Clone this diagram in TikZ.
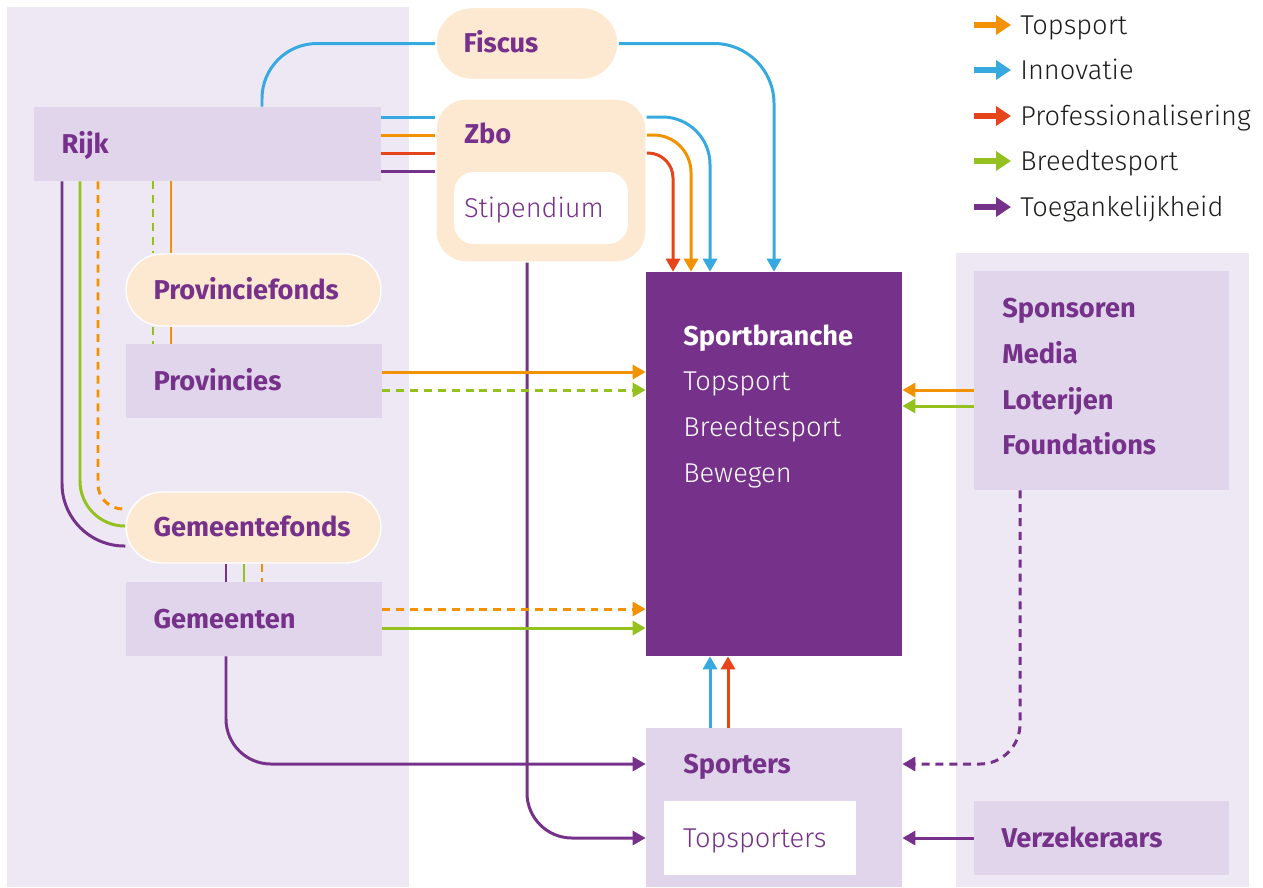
\documentclass[tikz,border=0pt]{standalone}
\usepackage{fontspec}
\setmainfont{Fira Sans}
\newfontfamily\lightfont{Fira Sans Light}
\usepackage{xcolor}
\usepackage{tikz}
\usetikzlibrary{arrows.meta, positioning}

\definecolor{topcol}{HTML}{F39200}
\definecolor{innocol}{HTML}{36A9E1}
\definecolor{profcol}{HTML}{E6441A}
\definecolor{breedcol}{HTML}{95C11F}
\definecolor{toegcol}{HTML}{76318A}
\definecolor{panelbg}{HTML}{EEE8F4}
\definecolor{boxbg}{HTML}{E1D5EB}
\definecolor{fondsbg}{HTML}{FDE8D2}
\definecolor{darktxt}{HTML}{1D1D1B}

\pgfdeclarelayer{panels}
\pgfdeclarelayer{lines}
\pgfsetlayers{panels,lines,main}

\begin{document}
\begin{tikzpicture}[x=0.02cm, y=-0.02cm, >={Triangle[length=0.26cm, width=0.28cm]}]
		\tikzstyle{box} = [rectangle, fill=boxbg, text=toegcol, font=\bfseries\fontsize{15.5}{26}\selectfont, inner xsep=0.55cm, inner ysep=0pt, text height=10.7pt, text depth=0pt, align=left, minimum height=1.48cm]
		\tikzstyle{fonds} = [box, fill=fondsbg, draw=white, line width=0.8pt, rounded corners=0.72cm, minimum height=1.44cm]
		\tikzstyle{inner} = [box, fill=white, font=\lightfont\fontsize{15.5}{26}\selectfont]
		\tikzstyle{title} = [text=toegcol, font=\bfseries\fontsize{15.5}{26}\selectfont, inner sep=0pt, text height=10.7pt, text depth=0pt, anchor=west]
		\tikzstyle{list} = [text=toegcol, font=\bfseries\fontsize{15.5}{26}\selectfont, inner sep=0pt, anchor=north west, align=left]
		\tikzstyle{legend} = [text=darktxt, font=\lightfont\fontsize{15.5}{26}\selectfont, inner sep=0pt, text height=10.7pt, text depth=0pt, anchor=west]
		\tikzstyle{flow} = [line width=1.7pt, ->]
		\tikzstyle{stippel} = [dash pattern=on 4.5pt off 3.4pt]
		\tikzstyle{legarrow} = [line width=0.12cm, -{Triangle[length=0.3cm, width=0.38cm]}]

		\useasboundingbox (0,0) rectangle (1263,887);

		\begin{pgfonlayer}{panels}
			\fill[panelbg] (7,7) rectangle (409,887);
			\fill[panelbg] (956,253) rectangle (1249,887);
		\end{pgfonlayer}

		\node[box, text width=5.84cm] 	at (207.5,144) 	(rijk) 		{Rijk};
		\node[fonds, text width=2.54cm] at (527,43.5) 	(fiscus) 	{Fiscus};
		\node[fonds, rounded corners=0.6cm, minimum width=4.2cm, minimum height=3.26cm] at (541,180.5) (zbo) {};
		\node[title] 					at (464,134.5) 	(zbotxt) 	{Zbo};
		\node[inner, rounded corners=0.4cm, inner xsep=0.2cm, text width=3.08cm, minimum height=1.44cm] at (541,208) (stip) {Stipendium};
		\node[fonds, text width=4cm] 	at (253.5,290) 	(provfonds) {Provinciefonds};
		\node[box, text width=4.02cm] 	at (254,381) 	(prov) 		{Provincies};
		\node[fonds, text width=4cm, minimum height=1.42cm] at (253.5,527.5) (gemfonds) {Gemeentefonds};
		\node[box, text width=4.02cm] 	at (254,619) 	(gem) 		{Gemeenten};

		\node[rectangle, fill=toegcol, minimum width=5.12cm, minimum height=7.68cm] at (774,464) (branche) {};
		\node[list, text=white, font=\lightfont\fontsize{15.5}{26}\selectfont] at (683,324) (branchetxt) {{\fontspec{Fira Sans}\bfseries Sportbranche}\\Topsport\\Breedtesport\\Bewegen};
		\node[box, minimum width=5.12cm, minimum height=3.18cm] at (774,807.5) (sporters) {};
		\node[title] 					at (683,764) 	(sporterstxt) {Sporters};
		\node[inner, inner xsep=0.38cm, text width=3.08cm] at (760,838) (topsp) {Topsporters};

		\node[box, minimum width=5.1cm, minimum height=4.38cm] at (1101.5,380.5) (sponsors) {};
		\node[list] 					at (1002,298) 	(sponsorstxt) {Sponsoren\\Media\\Loterijen\\Foundations};
		\node[box, text width=4cm] 		at (1101.5,838) (verz) 		{Verzekeraars};

		\node[legend] at (1020,25) 	(lgtop) 	{Topsport};
		\node[legend] at (1020,70) 	(lginno) 	{Innovatie};
		\node[legend] at (1020,116) (lgprof) 	{Professionalisering};
		\node[legend] at (1020,161) (lgbreed) 	{Breedtesport};
		\node[legend] at (1020,207) (lgtoeg) 	{Toegankelijkheid};
		\foreach \n/\c in {lgtop/topcol, lginno/innocol, lgprof/profcol, lgbreed/breedcol, lgtoeg/toegcol}
			\draw[legarrow, \c] ([xshift=-0.92cm]\n.west) -- ([xshift=-0.18cm]\n.west);

		\begin{pgfonlayer}{lines}
			\draw[flow, -, innocol, rounded corners=1.1cm] (rijk.north -| 262,0) |- (fiscus.west);
			\draw[flow, innocol, rounded corners=1.2cm] (fiscus.east) -| (branche.north -| 774,0);

			\draw[flow, -, innocol] 	(rijk.east |- 0,117) -- (zbo.west |- 0,117);
			\draw[flow, -, topcol] 		(rijk.east |- 0,135) -- (zbo.west |- 0,135);
			\draw[flow, -, profcol] 	(rijk.east |- 0,153) -- (zbo.west |- 0,153);
			\draw[flow, -, toegcol] 	(rijk.east |- 0,171) -- (zbo.west |- 0,171);
			\draw[flow, innocol, rounded corners=0.95cm] (zbo.east |- 0,117) -| (branche.north -| 710,0);
			\draw[flow, topcol, rounded corners=0.75cm] (zbo.east |- 0,135) -| (branche.north -| 691,0);
			\draw[flow, profcol, rounded corners=0.5cm] (zbo.east |- 0,153) -| (branche.north -| 673,0);
			\draw[flow, toegcol, rounded corners=0.9cm] (stip.south -| 527,0) |- (sporters.west |- topsp.west);

			\draw[flow, -, breedcol, stippel] (rijk.south -| 153,0) -- (provfonds.north -| 153,0);
			\draw[flow, -, topcol] 	(rijk.south -| 171,0) -- (provfonds.north -| 171,0);
			\draw[flow, -, breedcol, stippel] (provfonds.south -| 153,0) -- (prov.north -| 153,0);
			\draw[flow, -, topcol] 	(provfonds.south -| 171,0) -- (prov.north -| 171,0);

			\draw[flow, -, toegcol, rounded corners=1.25cm] (rijk.south -| 62,0) |- (gemfonds.west |- 0,546);
			\draw[flow, -, breedcol, rounded corners=0.9cm] (rijk.south -| 80,0) |- (gemfonds.west |- 0,526);
			\draw[flow, -, topcol, stippel, rounded corners=0.5cm] (rijk.south -| 98,0) |- (gemfonds.west |- 0,509);
			\draw[flow, -, toegcol] (gemfonds.south -| 226,0) -- (gem.north -| 226,0);
			\draw[flow, -, breedcol] (gemfonds.south -| 244,0) -- (gem.north -| 244,0);
			\draw[flow, -, topcol, stippel] (gemfonds.south -| 262,0) -- (gem.north -| 262,0);

			\draw[flow, topcol] 	(prov.east |- 0,372) -- (branche.west |- 0,372);
			\draw[flow, breedcol, stippel] (prov.east |- 0,390) -- (branche.west |- 0,390);
			\draw[flow, topcol, stippel] (gem.east |- 0,609) -- (branche.west |- 0,609);
			\draw[flow, breedcol] 	(gem.east |- 0,628) -- (branche.west |- 0,628);
			\draw[flow, toegcol, rounded corners=0.9cm] (gem.south -| 226,0) |- (sporters.west |- sporterstxt);

			\draw[flow, topcol] 	(sponsors.west |- 0,390) -- (branche.east |- 0,390);
			\draw[flow, breedcol] 	(sponsors.west |- 0,406) -- (branche.east |- 0,406);
			\draw[flow, toegcol, stippel, rounded corners=0.8cm] (sponsors.south -| 1020,0) |- (sporters.east |- sporterstxt);
			\draw[flow, toegcol] 	(verz.west) -- (sporters.east |- verz.west);

			\draw[flow, innocol] 	(sporters.north -| 710,0) -- (branche.south -| 710,0);
			\draw[flow, profcol] 	(sporters.north -| 728,0) -- (branche.south -| 728,0);
		\end{pgfonlayer}
	\end{tikzpicture}
\end{document}
